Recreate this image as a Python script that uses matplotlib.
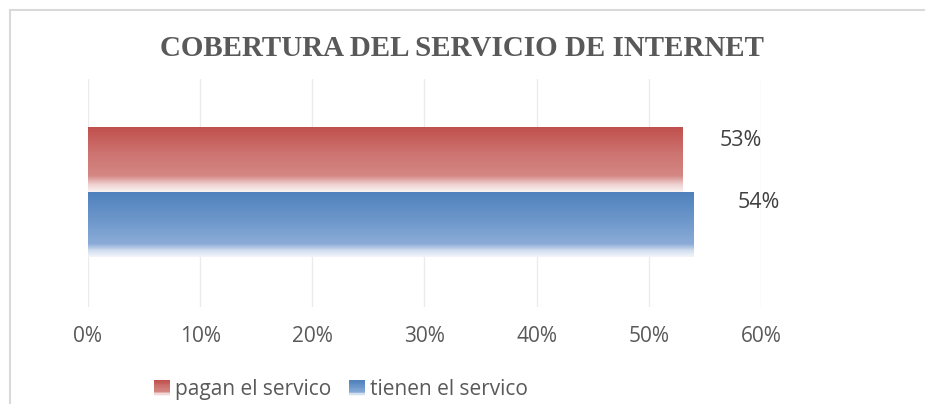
import numpy as np
import matplotlib
matplotlib.use('Agg')
import matplotlib.pyplot as plt
from matplotlib.colors import LinearSegmentedColormap
from matplotlib.patches import Rectangle
from matplotlib.legend_handler import HandlerBase

# data
series = ['pagan el servico', 'tienen el servico']
values = [0.53, 0.54]
value_labels = ['53%', '54%']
xticks = [0, 0.1, 0.2, 0.3, 0.4, 0.5, 0.6]
xtick_labels = ['0%', '10%', '20%', '30%', '40%', '50%', '60%']
title = 'COBERTURA DEL SERVICIO DE INTERNET'

# gradient stops (top -> bottom of the bar)
red_stops = [(0.0, '#C0504D'), (0.4, '#CD7370'), (0.75, '#D48784'),
             (0.88, '#EDCFCE'), (1.0, '#FBF3F3')]
blue_stops = [(0.0, '#4F81BD'), (0.5, '#729BCD'), (0.8, '#8CACD7'),
              (0.9, '#D2DEEE'), (1.0, '#F3F6FB')]
cmaps = [LinearSegmentedColormap.from_list('r', red_stops),
         LinearSegmentedColormap.from_list('b', blue_stops)]

plt.rcParams['font.family'] = ['Open Sans', 'DejaVu Sans']

fig = plt.figure(figsize=(9.25, 4.04), dpi=100)
ax = fig.add_axes([0.0951, 0.240, 0.7276, 0.5644])

# chart border
fig.patches.append(Rectangle((10 / 925, -0.2), 1.2, 1.2 - 10 / 404,
                             transform=fig.transFigure, fill=False,
                             edgecolor='#D9D9D9', lw=1.5))

ypos = [0.145, -0.14]
h = 0.285
grad = np.linspace(0, 1, 256).reshape(-1, 1)
bars = ax.barh(ypos, values, height=h, color='none')
for bar, cm in zip(bars, cmaps):
    x0, y0 = bar.get_x(), bar.get_y()
    im = ax.imshow(grad, cmap=cm, aspect='auto', origin='upper',
                   extent=(x0, x0 + bar.get_width(), y0, y0 + bar.get_height()),
                   zorder=2)
    im.set_clip_path(bar)

for bar, lab, dx, dy in zip(bars, value_labels, [42, 47], [14, 16]):
    ax.annotate(lab, (bar.get_width(), bar.get_y() + bar.get_height() / 2),
                xytext=(dx, dy), textcoords='offset points', ha='center',
                va='center', fontsize=15.5, color='#404040')

ax.set_xlim(0, 0.6)
ax.set_ylim(-0.5, 0.5)
ax.set_xticks(xticks)
ax.set_xticklabels(xtick_labels, fontsize=15, color='#595959')
ax.set_yticks([])
ax.tick_params(axis='x', length=0, pad=14)
ax.grid(axis='x', color='#EBEBEB', lw=1)
ax.set_axisbelow(True)
for s in ax.spines.values():
    s.set_visible(False)

fig.text(0.499, 0.880, title, ha='center', va='center',
         family='Liberation Serif', fontweight='bold', fontsize=20.9,
         color='#595959')


class GradHandler(HandlerBase):
    def __init__(self, cmap):
        super().__init__()
        self.cmap = cmap

    def create_artists(self, legend, orig_handle, xdescent, ydescent,
                       width, height, fontsize, trans):
        n = 12
        arts = []
        size = height
        x = -xdescent + width - size
        for i in range(n):
            c = self.cmap(i / (n - 1))
            r = Rectangle((x, -ydescent + size * (1 - (i + 1) / n)), size, size / n,
                          facecolor=c, edgecolor='none', transform=trans)
            arts.append(r)
        return arts


handles = [Rectangle((0, 0), 1, 1), Rectangle((0, 0), 1, 1)]
fig.legend(handles, series, loc='center', bbox_to_anchor=(0.368, 0.035),
           ncol=2, frameon=False, fontsize=15, labelcolor='#595959',
           handlelength=0.8, handleheight=0.8, handletextpad=0.25,
           columnspacing=0.8,
           handler_map={handles[0]: GradHandler(cmaps[0]),
                        handles[1]: GradHandler(cmaps[1])})

fig.savefig('out.png', dpi=100)
